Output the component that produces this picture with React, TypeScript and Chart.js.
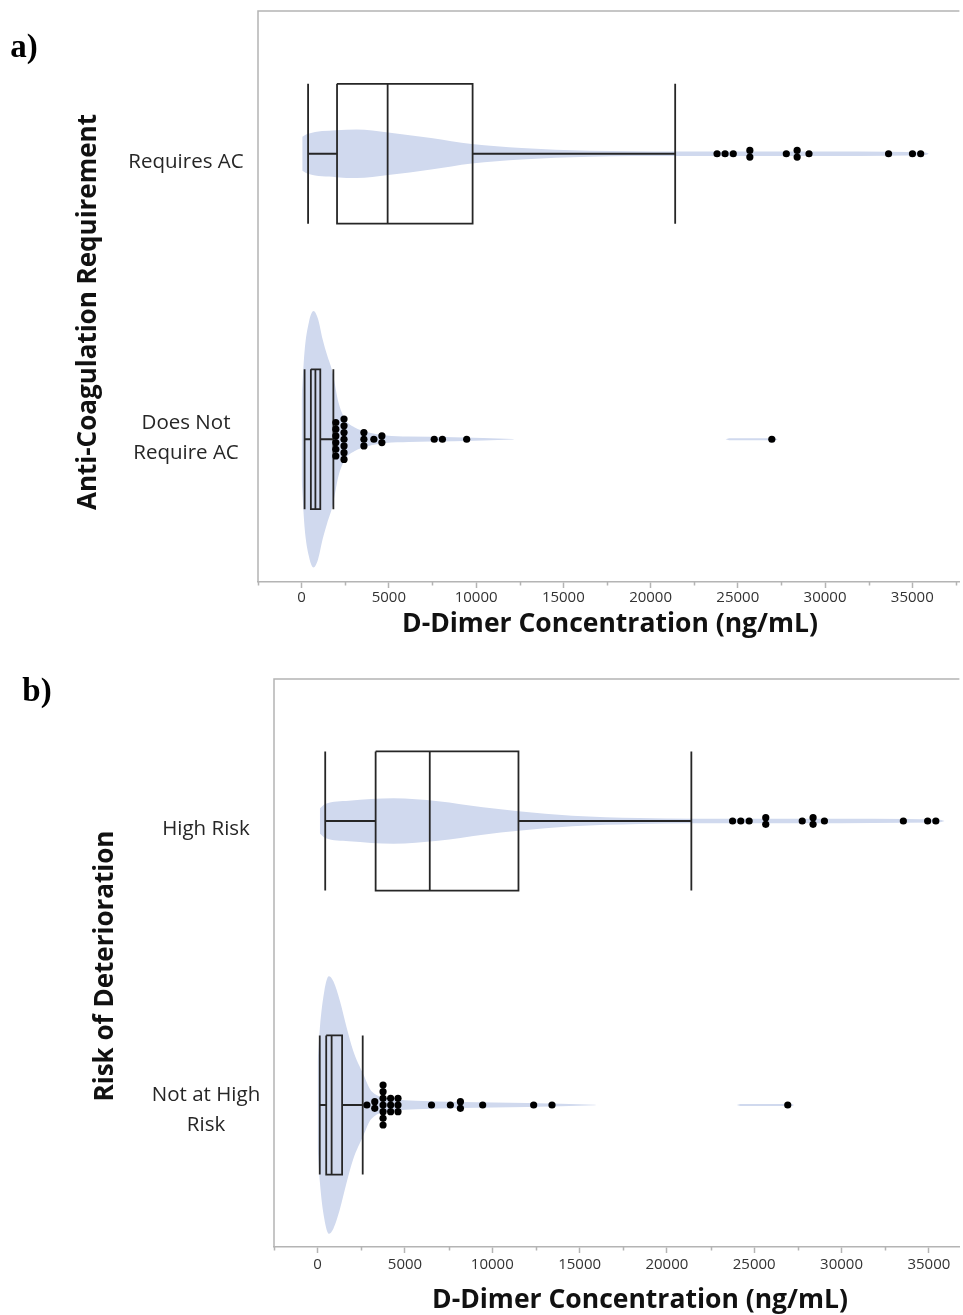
import React, { useEffect, useRef } from 'react';
import { Chart, registerables } from 'chart.js';

Chart.register(...registerables);

// ---------- shared ----------
const X_TITLE = 'D-Dimer Concentration (ng/mL)';
const X_MAJOR_TICKS = [0, 5000, 10000, 15000, 20000, 25000, 30000, 35000];

// ---------- panel a) ----------
const catsA = [['Requires AC'], ['Does Not', 'Require AC']];
const yTitleA = 'Anti-Coagulation Requirement';
// [lower whisker, Q1, median, Q3, upper whisker]
const boxRequiresAC = [370, 2030, 4930, 9800, 21410];
const boxNoAC = [170, 530, 790, 1070, 1820];
const dotsRequiresAC = [23810, 24270, 24740, 25690, 25690, 27780, 28400, 28400, 29080, 33640, 35010, 35480];
const dotsNoAC = [
  1960, 1960, 1960, 1960, 1960, 1960,
  2430, 2430, 2430, 2430, 2430, 2430, 2430,
  3570, 3570, 3570, 4140, 4600, 4600,
  7600, 8070, 9460, 26950,
];
const violinRequiresACX = [35, 370, 1980, 3150, 4960, 7420, 9750, 12610, 16500, 21430, 28200, 35680, 35950];
const violinRequiresACD = [13.2, 15.5, 18.1, 18.8, 16.5, 12.2, 7.5, 4.4, 2.3, 1.8, 1.8, 1.2, 0];
const violinNoACX = [0, 165, 420, 680, 940, 1200, 1460, 1770, 2110, 2500, 3020, 3790, 4830, 6130, 8720, 12090, 12300, 24300, 24500, 27100, 27300];
const violinNoACD = [31, 67.4, 90.7, 99.2, 93, 77.5, 65.1, 51.9, 28.7, 15.5, 9.3, 5.4, 2.9, 2.1, 1.6, 0.2, 0, 0, 0.8, 0.8, 0];

// ---------- panel b) ----------
const catsB = [['High Risk'], ['Not at High', 'Risk']];
const yTitleB = 'Risk of Deterioration';
const boxHighRisk = [433, 3320, 6420, 11500, 21400];
const boxNotHigh = [120, 490, 800, 1400, 2580];
const dotsHighRisk = [23760, 24230, 24710, 25660, 25660, 27750, 28370, 28370, 29020, 33540, 34930, 35400];
const dotsNotHigh = [
  2820, 3270, 3270,
  3745, 3745, 3745, 3745, 3745, 3745, 3745,
  4180, 4180, 4180, 4600, 4600, 4600,
  6520, 7600, 8175, 8175, 9450, 12370, 13420, 26920,
];
const violinHighRiskX = [125, 433, 1790, 4340, 6900, 9460, 11500, 14570, 18410, 21400, 28000, 35540, 35900];
const violinHighRiskD = [9.7, 13.2, 15.7, 17.6, 15.3, 10.6, 7.5, 4.1, 2.3, 1.8, 1.7, 1.2, 0];
const violinNotHighX = [0, 125, 380, 640, 900, 1280, 1660, 2040, 2610, 3070, 4340, 5630, 8160, 12010, 15850, 16100, 24000, 24200, 27100, 27300];
const violinNotHighD = [33.3, 59.7, 88.4, 100, 96.1, 80.6, 60.2, 41.9, 24, 10.9, 4.7, 3.3, 2.3, 1.6, 0.2, 0, 0, 0.8, 0.8, 0];

// ---------- style constants ----------
const VIOLIN_COLOR = '#d0d9ee';
const LINE_COLOR = '#262626';
const FRAME_COLOR = '#b4b4b4';
const BOX_HALF = 0.245;
const VIOLIN_SCALE = 0.00453;
const DOT_STEP = 0.0235;
const SANS = '"Open Sans", "Noto Sans", sans-serif';

type Spec = {
  panelLabel: string;
  panelLabelPos: [number, number];
  cats: string[][];
  yTitle: string;
  boxes: number[][];
  dots: number[][];
  vx: number[][];
  vd: number[][];
  xMax: number;
  top: number;
  height: number;
  plotLeft: number;
  plotTop: number;
  xAxisH: number;
  tickPad: number;
  labelCx: number;
  labelDy: number[];
  yTitlePos: [number, number];
  xTitlePos: [number, number];
};

const specA: Spec = {
  panelLabel: 'a)',
  panelLabelPos: [24, 48],
  cats: catsA,
  yTitle: yTitleA,
  boxes: [boxRequiresAC, boxNoAC],
  dots: [dotsRequiresAC, dotsNoAC],
  vx: [violinRequiresACX, violinNoACX],
  vd: [violinRequiresACD, violinNoACD],
  xMax: 37700,
  top: 0,
  height: 648,
  plotLeft: 258,
  plotTop: 11,
  xAxisH: 66,
  tickPad: 1,
  labelCx: 186,
  labelDy: [8, -1],
  yTitlePos: [89, 312],
  xTitlePos: [610, 624],
};

const specB: Spec = {
  panelLabel: 'b)',
  panelLabelPos: [37, 32],
  cats: catsB,
  yTitle: yTitleB,
  boxes: [boxHighRisk, boxNotHigh],
  dots: [dotsHighRisk, dotsNotHigh],
  vx: [violinHighRiskX, violinNotHighX],
  vd: [violinHighRiskD, violinNotHighD],
  xMax: 36750,
  top: 660,
  height: 655,
  plotLeft: 274,
  plotTop: 19,
  xAxisH: 68,
  tickPad: 3,
  labelCx: 206,
  labelDy: [8, 5],
  yTitlePos: [106, 306],
  xTitlePos: [640, 640],
};

function lineDs(data: { x: number; y: number }[]) {
  return {
    data,
    borderColor: LINE_COLOR,
    borderWidth: 1.8,
    pointRadius: 0,
    pointHoverRadius: 0,
    tension: 0,
    fill: false,
    showLine: true,
  };
}

function buildDatasets(spec: Spec) {
  const ds: any[] = [];
  // dots (drawn on top)
  spec.dots.forEach((vals, g) => {
    const counts = new Map<number, number>();
    vals.forEach((v) => counts.set(v, (counts.get(v) || 0) + 1));
    const seen = new Map<number, number>();
    const data = vals.map((v) => {
      const n = counts.get(v) || 1;
      const i = seen.get(v) || 0;
      seen.set(v, i + 1);
      return { x: v, y: g + 0.5 + (i - (n - 1) / 2) * DOT_STEP };
    });
    ds.push({
      data,
      showLine: false,
      pointRadius: 3.6,
      pointHoverRadius: 3.6,
      pointBackgroundColor: '#000',
      pointBorderColor: '#000',
      pointBorderWidth: 0,
      fill: false,
    });
  });
  // boxes
  spec.boxes.forEach((b, g) => {
    const [lo, q1, md, q3, hi] = b;
    const c = g + 0.5;
    const h = BOX_HALF;
    ds.push(lineDs([{ x: q1, y: c - h }, { x: q3, y: c - h }, { x: q3, y: c + h }, { x: q1, y: c + h }, { x: q1, y: c - h }]));
    ds.push(lineDs([{ x: md, y: c - h }, { x: md, y: c + h }]));
    ds.push(lineDs([{ x: lo, y: c }, { x: q1, y: c }]));
    ds.push(lineDs([{ x: q3, y: c }, { x: hi, y: c }]));
    ds.push(lineDs([{ x: lo, y: c - h }, { x: lo, y: c + h }]));
    ds.push(lineDs([{ x: hi, y: c - h }, { x: hi, y: c + h }]));
  });
  // violins (drawn first / underneath)
  spec.vx.forEach((xs, g) => {
    const c = g + 0.5;
    const d = spec.vd[g];
    const upper = xs.map((x, i) => ({ x, y: c - d[i] * VIOLIN_SCALE }));
    const lower = xs.map((x, i) => ({ x, y: c + d[i] * VIOLIN_SCALE }));
    ds.push({
      data: upper,
      fill: '+1',
      backgroundColor: VIOLIN_COLOR,
      borderColor: 'transparent',
      borderWidth: 0.01,
      pointRadius: 0,
      pointHoverRadius: 0,
      cubicInterpolationMode: 'monotone',
      showLine: true,
    });
    ds.push({
      data: lower,
      fill: false,
      backgroundColor: VIOLIN_COLOR,
      borderColor: 'transparent',
      borderWidth: 0.01,
      pointRadius: 0,
      pointHoverRadius: 0,
      cubicInterpolationMode: 'monotone',
      showLine: true,
    });
  });
  return ds;
}

function makePlugin(spec: Spec) {
  return {
    id: 'panelDecor' + spec.panelLabel,
    afterDraw(chart: any) {
      const { ctx, chartArea, scales } = chart;
      const xs = scales.x;
      const ys = scales.y;
      ctx.save();
      // frame: top and left
      ctx.strokeStyle = FRAME_COLOR;
      ctx.lineWidth = 1.5;
      ctx.beginPath();
      ctx.moveTo(chartArea.left, chartArea.bottom);
      ctx.lineTo(chartArea.left, chartArea.top);
      ctx.lineTo(chartArea.right, chartArea.top);
      ctx.stroke();
      // minor ticks
      ctx.beginPath();
      const minors: number[] = [];
      X_MAJOR_TICKS.forEach((v) => minors.push(v - 2500));
      minors.push(X_MAJOR_TICKS[X_MAJOR_TICKS.length - 1] + 2500);
      minors.forEach((v) => {
        if (v < xs.min || v > xs.max) return;
        const px = Math.round(xs.getPixelForValue(v)) + 0.5;
        ctx.moveTo(px, chartArea.bottom);
        ctx.lineTo(px, chartArea.bottom + 3.5);
      });
      ctx.stroke();
      // category labels
      ctx.fillStyle = '#262626';
      ctx.font = '20.5px ' + SANS;
      ctx.textAlign = 'center';
      ctx.textBaseline = 'middle';
      spec.cats.forEach((lines, g) => {
        const cy = ys.getPixelForValue(g + 0.5) + spec.labelDy[g];
        lines.forEach((t, i) => {
          ctx.fillText(t, spec.labelCx, cy + (i - (lines.length - 1) / 2) * 30);
        });
      });
      // y title
      ctx.fillStyle = '#111';
      ctx.font = 'bold 26px ' + SANS;
      ctx.save();
      ctx.translate(spec.yTitlePos[0], spec.yTitlePos[1]);
      ctx.rotate(-Math.PI / 2);
      ctx.fillText(spec.yTitle, 0, 0);
      ctx.restore();
      // x title
      ctx.font = 'bold 26.5px ' + SANS;
      ctx.fillText(X_TITLE, spec.xTitlePos[0], spec.xTitlePos[1]);
      // panel label
      ctx.fillStyle = '#000';
      ctx.font = 'bold 33px "Liberation Serif", "Times New Roman", serif';
      ctx.fillText(spec.panelLabel, spec.panelLabelPos[0], spec.panelLabelPos[1]);
      ctx.restore();
    },
  };
}

function Panel({ spec }: { spec: Spec }) {
  const ref = useRef<HTMLCanvasElement | null>(null);
  useEffect(() => {
    if (!ref.current) return;
    const tickValues: number[] = [];
    for (let v = -2500; v <= spec.xMax; v += 2500) tickValues.push(v);
    const chart = new Chart(ref.current, {
      type: 'line',
      data: { datasets: buildDatasets(spec) },
      options: {
        responsive: false,
        animation: false,
        events: [],
        layout: { padding: { left: spec.plotLeft, top: spec.plotTop, right: 0, bottom: 0 } },
        plugins: { legend: { display: false }, tooltip: { enabled: false } },
        scales: {
          x: {
            type: 'linear',
            min: -2500,
            max: spec.xMax,
            afterBuildTicks: (s: any) => {
              s.ticks = tickValues.map((v) => ({ value: v }));
            },
            afterFit: (s: any) => {
              s.height = spec.xAxisH;
            },
            ticks: {
              autoSkip: false,
              maxRotation: 0,
              minRotation: 0,
              padding: spec.tickPad,
              color: '#333',
              font: { family: SANS, size: 15 },
              callback: (v: any) => (X_MAJOR_TICKS.indexOf(Number(v)) >= 0 ? String(v) : ''),
            },
            grid: {
              drawOnChartArea: false,
              drawTicks: true,
              tickLength: 6,
              tickWidth: 1.5,
              tickColor: (c: any) =>
                c.tick && X_MAJOR_TICKS.indexOf(c.tick.value) >= 0 ? FRAME_COLOR : 'rgba(0,0,0,0)',
            },
            border: { display: true, color: FRAME_COLOR, width: 1.5 },
          },
          y: {
            type: 'linear',
            display: false,
            min: 0,
            max: spec.cats.length,
            reverse: true,
          },
        },
      } as any,
      plugins: [makePlugin(spec)],
    });
    return () => chart.destroy();
  }, [spec]);
  return (
    <canvas
      ref={ref}
      width={963}
      height={spec.height}
      style={{ position: 'absolute', left: 0, top: spec.top, width: 963, height: spec.height }}
    />
  );
}

export default function App() {
  return (
    <div style={{ position: 'absolute', left: 0, top: 0, width: 963, height: 1315, background: '#fff' }}>
      <Panel spec={specA} />
      <Panel spec={specB} />
    </div>
  );
}
